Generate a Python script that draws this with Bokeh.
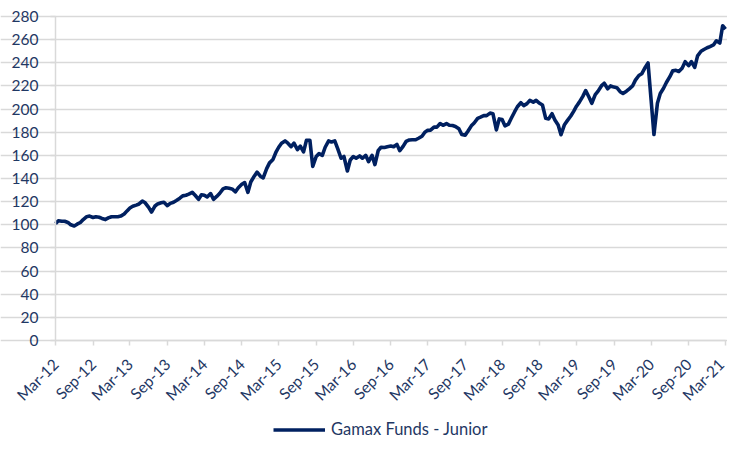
import math
import pandas as pd
from bokeh.plotting import figure
from bokeh.models import (FixedTicker, DatetimeTickFormatter, Legend, LegendItem,
                          Range1d, ColumnDataSource)
from bokeh.embed import file_html
from bokeh.resources import INLINE

series_name = "Gamax Funds - Junior"
start_date = "2012-03-01"
end_date = "2021-03-01"

# semi-monthly index levels (1st and 15th of each month)
values = [
    101, 103.5, 103, 103, 102, 100, 99, 100.5, 102, 104.5,
    107, 107.5, 106.3, 107, 106.5, 105.5, 104.5, 106, 107, 107,
    107, 107.5, 109.3, 112, 114.5, 116, 117, 118, 120.5, 119,
    115, 111, 116, 118, 119, 119.5, 116.5, 118.5, 119.5, 121,
    123, 125, 125.5, 126.5, 128, 125.5, 122, 126, 125.5, 124,
    127, 122, 124.5, 127, 131, 132, 131.5, 131, 128.5, 132,
    135, 136.5, 128, 137, 142, 145.5, 142, 140.5, 148.5, 153.5,
    156.5, 162.5, 167, 170.5, 172.5, 170.5, 167.5, 170.5, 165, 168,
    163, 173, 173, 150.5, 159, 161.5, 160, 167, 172.5, 171.5,
    172.5, 166, 157.5, 159, 146.5, 156, 159, 157.5, 159.5, 157.5,
    160, 154.5, 160, 152, 164, 167, 166.8, 167.4, 168, 167.4,
    169.5, 164, 168, 172, 173.3, 173.5, 173.5, 174.8, 176.5, 180,
    181.6, 181.8, 184.4, 184.4, 187.5, 186, 187.5, 186, 185.8, 185,
    183, 178, 177.5, 181, 185.5, 188, 192, 193, 194.3, 194.3,
    196.5, 196, 182, 191.5, 191, 185.5, 187, 192, 197.5, 202,
    205.5, 203, 204.7, 207.5, 206, 207.5, 205, 203.5, 192, 191.5,
    196, 190.6, 186.3, 177.8, 186.5, 190, 194, 198, 202.5, 206,
    211, 216, 210.4, 205, 212.5, 215.5, 220, 222.3, 217.5, 220,
    219, 218.5, 215, 213.5, 215.5, 217.5, 220, 225, 229, 230.5,
    236, 239.9, 208, 178, 205, 213.5, 218, 223, 228, 233,
    233.5, 232.5, 235.6, 241, 237.5, 241, 236, 246, 250, 251.5,
    253, 254, 255.4, 259, 257, 272, 269,
]

y_ticks = list(range(0, 281, 20))
x_tick_dates = pd.date_range(start_date, end_date, freq="6MS")

dates = pd.date_range(start_date, periods=len(values), freq="SMS")
source = ColumnDataSource(data=dict(date=dates, value=values))

LINE_COLOR = "#002060"
TEXT_COLOR = "#1f3864"
GRID_COLOR = "#d9d9d9"
FONT = "Lato"

# layout (pixels): the frame covers the whole figure; the plot area runs
# from x=55 (Mar-12) to x=725 (Mar-21) and from y=16 (280) to y=340 (0).
W, H = 727, 441
PLOT_LEFT, PLOT_RIGHT = 55, 725
PLOT_TOP, ZERO_PX = 16, 340
Y_MAX = 280

t0 = pd.Timestamp(start_date).value / 1e6
t1 = pd.Timestamp(end_date).value / 1e6
ms_per_px = (t1 - t0) / (PLOT_RIGHT - PLOT_LEFT)
x_lo = t0 - PLOT_LEFT * ms_per_px
x_hi = t1 + (W - PLOT_RIGHT) * ms_per_px
px_per_unit = (ZERO_PX - PLOT_TOP) / Y_MAX
y_hi = Y_MAX + PLOT_TOP / px_per_unit
y_lo = -(H - ZERO_PX) / px_per_unit

p = figure(width=W, height=H, x_axis_type="datetime",
           output_backend="svg", toolbar_location=None,
           x_range=Range1d(x_lo, x_hi), y_range=Range1d(y_lo, y_hi),
           min_border_left=0, min_border_right=0, min_border_top=0,
           min_border_bottom=0)
p.outline_line_color = None
p.background_fill_color = "white"
p.border_fill_color = "white"

r = p.line("date", "value", source=source, line_color=LINE_COLOR, line_width=3.6,
           line_join="round")

p.xgrid.grid_line_color = None
p.ygrid.grid_line_color = GRID_COLOR
p.ygrid.grid_line_width = 1.3
p.ygrid.bounds = (t0, t1)

p.yaxis.ticker = FixedTicker(ticks=y_ticks)
p.yaxis.bounds = (0, Y_MAX)
p.yaxis.fixed_location = t0
p.xaxis.ticker = FixedTicker(ticks=[d.value // 10**6 for d in x_tick_dates])
p.xaxis.bounds = (t0, t1)
p.xaxis.formatter = DatetimeTickFormatter(days="%b-%y", months="%b-%y", years="%b-%y")
p.xaxis.major_label_orientation = math.pi / 4
p.xaxis.fixed_location = 0

for ax in (p.xaxis, p.yaxis):
    ax.axis_line_color = GRID_COLOR
    ax.axis_line_width = 1.5
    ax.major_tick_line_color = GRID_COLOR
    ax.major_tick_line_width = 1.5
    ax.major_tick_out = 5
    ax.major_tick_in = 0
    ax.minor_tick_line_color = None
    ax.major_label_text_font = FONT
    ax.major_label_text_font_size = "15.5px"
    ax.major_label_text_color = TEXT_COLOR
p.yaxis.major_label_standoff = 12
p.xaxis.major_label_standoff = 16

legend = Legend(items=[LegendItem(label=series_name, renderers=[r])],
                orientation="horizontal", location=(273, 2),
                border_line_color=None, background_fill_alpha=0,
                label_text_font=FONT, label_text_font_size="16.5px",
                label_text_color=TEXT_COLOR, glyph_width=52, glyph_height=17,
                label_height=17, label_standoff=6, margin=0, padding=0)
p.add_layout(legend)

open("out.html", "w").write(file_html(p, INLINE))
